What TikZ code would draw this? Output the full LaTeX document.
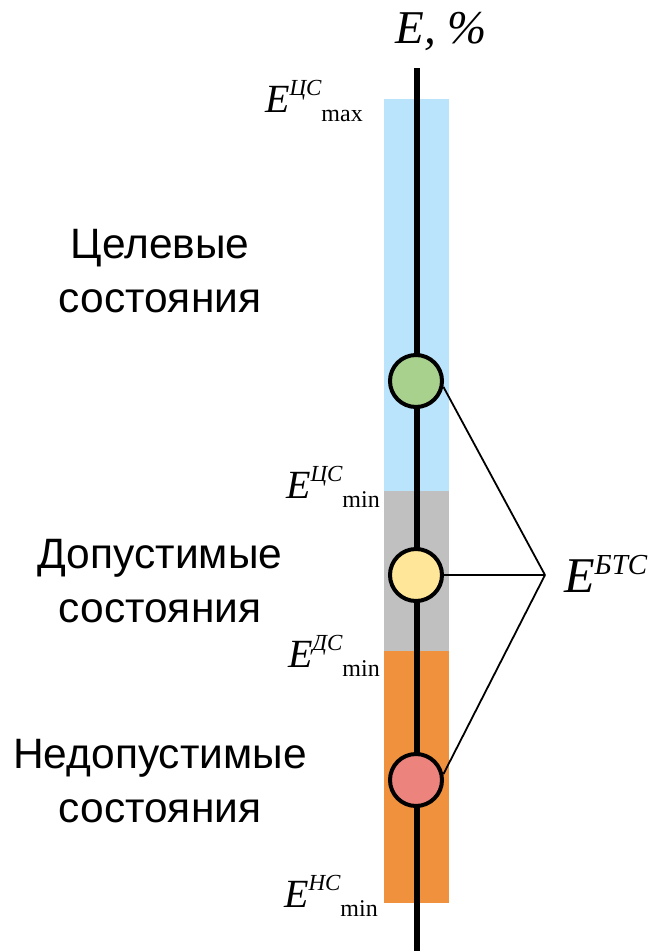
\documentclass[tikz,border=0pt]{standalone}
\usepackage{fontspec}
\setmainfont{Liberation Serif}
\newfontfamily\arialf{Liberation Sans}
\newcommand{\Elab}[4][40]{{\fontsize{#1}{#1}\selectfont\itshape E}\raisebox{#4pt}{\fontsize{23}{23}\selectfont\itshape #2}\raisebox{-9pt}{\fontsize{24}{24}\selectfont #3}}
\definecolor{cblue}{HTML}{BAE4FC}
\definecolor{cgray}{HTML}{C0C0C0}
\definecolor{corange}{HTML}{F0913E}
\definecolor{cgreen}{HTML}{A9D18E}
\definecolor{cyellow}{HTML}{FFE699}
\definecolor{cred}{HTML}{EC837C}
\begin{document}
\begin{tikzpicture}[x=1pt,y=-1pt,
  state/.style={circle,draw=black,line width=4pt,minimum size=52pt,inner sep=0pt},
  link/.style={line width=1.8pt},
  side/.style={font=\arialf\fontsize{42.5}{54}\selectfont,align=center,anchor=base},
  elab/.style={anchor=base east,inner sep=0pt}]
\useasboundingbox (0,0) rectangle (654,951);
\fill[cblue] (384,99) rectangle (449,491);
\fill[cgray] (384,491) rectangle (449,651);
\fill[corange] (384,651) rectangle (449,903);
\coordinate (atop) at (417,68);
\coordinate (abot) at (417,951);
\draw[line width=6pt] (atop) -- (abot);
\node[state,fill=cgreen] (g) at (416,381) {};
\node[state,fill=cyellow] (y) at (416,575) {};
\node[state,fill=cred] (r) at (416,780) {};
\coordinate (j) at (545,575);
\draw[link] (g.-12) -- (j);
\draw[link] (y.east) -- (j);
\draw[link] (r.12) -- (j);
\node[anchor=base west,inner sep=0pt] (ebts) at (564,592) {{\fontsize{50}{50}\selectfont\itshape E}\raisebox{18pt}{\fontsize{29}{29}\selectfont\itshape БТС}};
\node[anchor=base,inner sep=0pt,font=\fontsize{47}{47}\selectfont\itshape] (title) at (441,43) {E, \%};
\node[elab] (emax) at (363,112) {\Elab{ЦС}{max}{17}};
\node[elab] (emin1) at (380,498) {\Elab{ЦС}{min}{17}};
\node[elab] (emin2) at (380,667) {\Elab{ДС}{min}{17}};
\node[elab] (emin3) at (378,907) {\Elab{НС}{min}{17}};
\node[side] (t1) at (160,312) {Целевые\\состояния};
\node[side] (t2) at (160,622) {Допустимые\\состояния};
\node[side] (t3) at (160,822) {Недопустимые\\состояния};
\end{tikzpicture}
\end{document}
